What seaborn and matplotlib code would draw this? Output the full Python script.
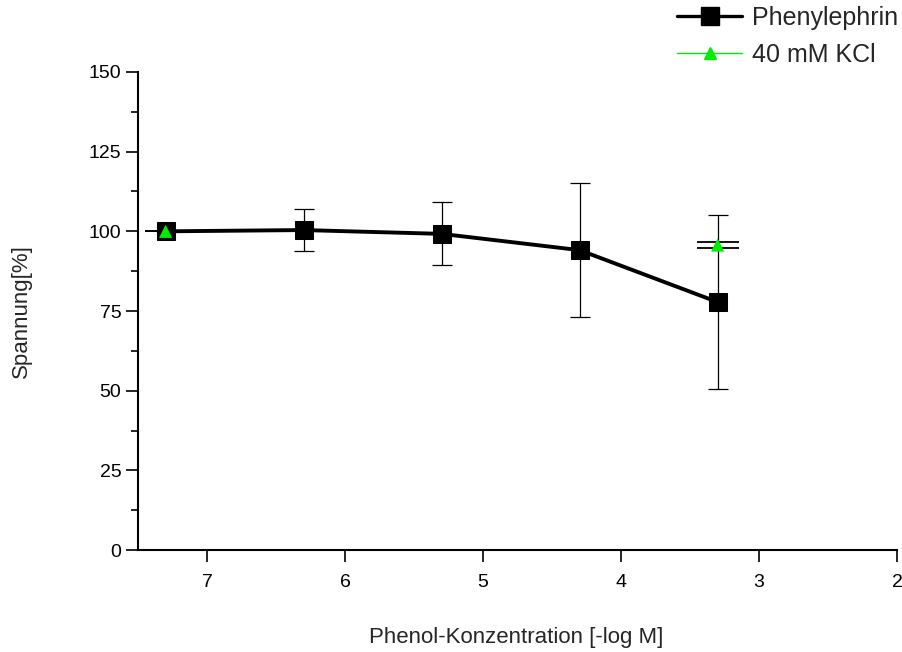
import matplotlib
matplotlib.use("Agg")
import matplotlib.pyplot as plt
from matplotlib.lines import Line2D
from matplotlib.ticker import MultipleLocator
import seaborn as sns
import pandas as pd

conc = [7.3, 6.3, 5.3, 4.3, 3.3]
phenyl = [100.0, 100.4, 99.2, 94.1, 77.8]
phenyl_err = [0.0, 6.5, 9.85, 21.1, 27.2]
kcl_x = [7.3, 3.3]
kcl = [100.0, 95.7]
kcl_err = [0.0, 0.9]
xticks = [7, 6, 5, 4, 3, 2]
yticks = [0, 25, 50, 75, 100, 125, 150]

sns.set_style("ticks")
plt.rcParams['font.family'] = ['Liberation Sans', 'DejaVu Sans']

df_p = pd.DataFrame({"x": conc, "y": phenyl})
df_k = pd.DataFrame({"x": kcl_x, "y": kcl})

fig = plt.figure(figsize=(9.02, 6.52), dpi=100)
ax = fig.add_axes([0.153, 0.1564, 0.8415, 0.7332])

ax.errorbar(conc, phenyl, yerr=phenyl_err, fmt='none', ecolor='black',
            elinewidth=0.9, capsize=7.5, capthick=0.9, zorder=2)
sns.lineplot(data=df_p, x="x", y="y", ax=ax, color='black', linewidth=2.8,
             marker='s', markersize=13, markeredgecolor='black',
             markerfacecolor='black', zorder=3, legend=False)
ax.errorbar(kcl_x, kcl, yerr=kcl_err, fmt='none', ecolor='black',
            elinewidth=0.9, capsize=14.8, capthick=1.3, zorder=4)
sns.scatterplot(data=df_k, x="x", y="y", ax=ax, color='#00ee00', marker='^',
                s=90, edgecolor='none', zorder=5, legend=False)

ax.set_xlim(7.5, 2)
ax.set_ylim(0, 150)
ax.set_xticks(xticks)
ax.set_xticklabels([str(t) for t in xticks])
ax.set_yticks(yticks)
ax.set_yticklabels([str(t) for t in yticks])
ax.yaxis.set_minor_locator(MultipleLocator(12.5))
ax.tick_params(axis='both', which='major', direction='out', length=8.5, width=1.2,
               labelsize=14, color='black', labelcolor='black')
ax.tick_params(axis='y', which='minor', direction='out', length=5, width=1.2, color='black')
ax.tick_params(axis='x', which='major', pad=9)
ax.tick_params(axis='y', which='major', pad=3.5)
for s in ['top', 'right']:
    ax.spines[s].set_visible(False)
for s in ['left', 'bottom']:
    ax.spines[s].set_linewidth(1.5)
    ax.spines[s].set_color('black')

ax.set_xlabel("Phenol-Konzentration [-log M]", fontsize=16)
ax.xaxis.label.set_va('center')
ax.xaxis.set_label_coords(0.498, -0.182)
ax.set_ylabel("Spannung[%]", fontsize=16)
ax.yaxis.label.set_va('center')
ax.yaxis.set_label_coords(-0.153, 0.5)

handles = [
    Line2D([], [], color='black', linewidth=2.4, marker='s', markersize=12.5),
    Line2D([], [], color='#00ee00', linewidth=1.0, marker='^', markersize=9),
]
fig.legend(handles, ["Phenylephrin", "40 mM KCl"], loc='upper left',
           bbox_to_anchor=(677 / 902, 1 - 6 / 652), frameon=False, fontsize=18,
           handlelength=2.6, handletextpad=0.4, labelspacing=0.5,
           borderpad=0, borderaxespad=0)

fig.savefig("out.png", dpi=100)
